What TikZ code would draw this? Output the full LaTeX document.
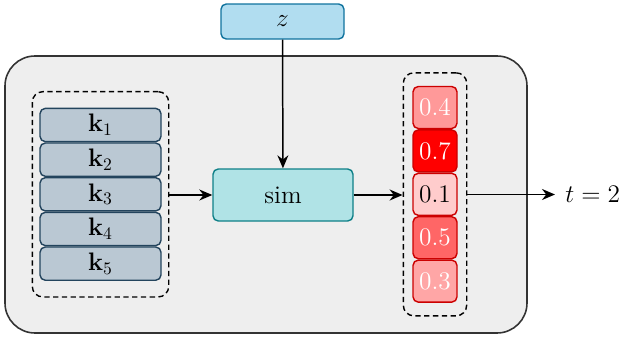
\documentclass[tikz,border=0pt]{standalone}
\usepackage{amsmath}
\usetikzlibrary{arrows.meta,positioning,fit}
\definecolor{panelfill}{HTML}{EEEEEE}
\definecolor{paneldraw}{HTML}{333333}
\definecolor{queryfill}{HTML}{B1DDF0}
\definecolor{querydraw}{HTML}{10739E}
\definecolor{simfill}{HTML}{B0E3E6}
\definecolor{simdraw}{HTML}{0E8088}
\definecolor{keyfill}{HTML}{BAC8D3}
\definecolor{keydraw}{HTML}{23445D}
\definecolor{scoredraw}{HTML}{CC0000}

\begin{document}
\begin{tikzpicture}[
  box/.style={
    rounded corners=3pt,
    line width=0.8pt,
    align=center,
    inner sep=0pt,
    font=\Large
  },
  keybox/.style={
    box,
    draw=keydraw,
    fill=keyfill,
    minimum width=2.42cm,
    minimum height=0.665cm
  },
  scorebox/.style={
    box,
    draw=scoredraw,
    minimum width=0.88cm,
    minimum height=0.84cm,
    font=\fontsize{15}{18}\selectfont
  },
  group/.style={
    draw,
    dash pattern=on 3pt off 2pt,
    line width=0.8pt,
    rounded corners=6pt
  },
  flow/.style={-{Stealth[length=2.6mm,width=2.2mm]}, line width=0.85pt}
]
\useasboundingbox (0,0) rectangle (12.44,-6.78);

% panel
\draw[fill=panelfill, draw=paneldraw, line width=0.9pt, rounded corners=0.6cm]
  (0.1,-1.12) rectangle (10.54,-6.66);

% query and similarity
\node[box, draw=querydraw, fill=queryfill, minimum width=2.46cm, minimum height=0.70cm]
  (query) at (5.65,-0.43) {$z$};
\node[box, draw=simdraw, fill=simfill, minimum width=2.8cm, minimum height=1.04cm]
  (sim) at (5.66,-3.9) {sim};

% keys
\node[keybox] (k1) at (2.01,-2.5) {$\mathbf{k}_1$};
\node[keybox, below=0pt of k1] (k2) {$\mathbf{k}_2$};
\node[keybox, below=0pt of k2] (k3) {$\mathbf{k}_3$};
\node[keybox, below=0pt of k3] (k4) {$\mathbf{k}_4$};
\node[keybox, below=0pt of k4] (k5) {$\mathbf{k}_5$};
\node[group, inner xsep=0.14cm, inner ysep=0.32cm, fit=(k1) (k5)] (keys) {};

% scores
\node[scorebox, fill=red!40, text=white] (s1) at (8.7,-2.15) {$0.4$};
\node[scorebox, fill=red, text=white, below=0pt of s1] (s2) {$0.7$};
\node[scorebox, fill=red!20, below=0pt of s2] (s3) {$0.1$};
\node[scorebox, fill=red!60, text=white, below=0pt of s3] (s4) {$0.5$};
\node[scorebox, fill=red!35, text=white, below=0pt of s4] (s5) {$0.3$};
\node[group, inner xsep=0.18cm, inner ysep=0.26cm, fit=(s1) (s5)] (scores) {};

\coordinate (out) at (11.1,-3.89);
\node[right=0.2cm of out, inner sep=0pt, font=\Large] (result) {$t=2$};

\draw[flow] (query) -- (sim);
\draw[flow] (keys.east |- sim) -- (sim);
\draw[flow] (sim) -- (scores.west |- sim);
\draw[flow] (scores.east |- out) -- (out);

\end{tikzpicture}
\end{document}
